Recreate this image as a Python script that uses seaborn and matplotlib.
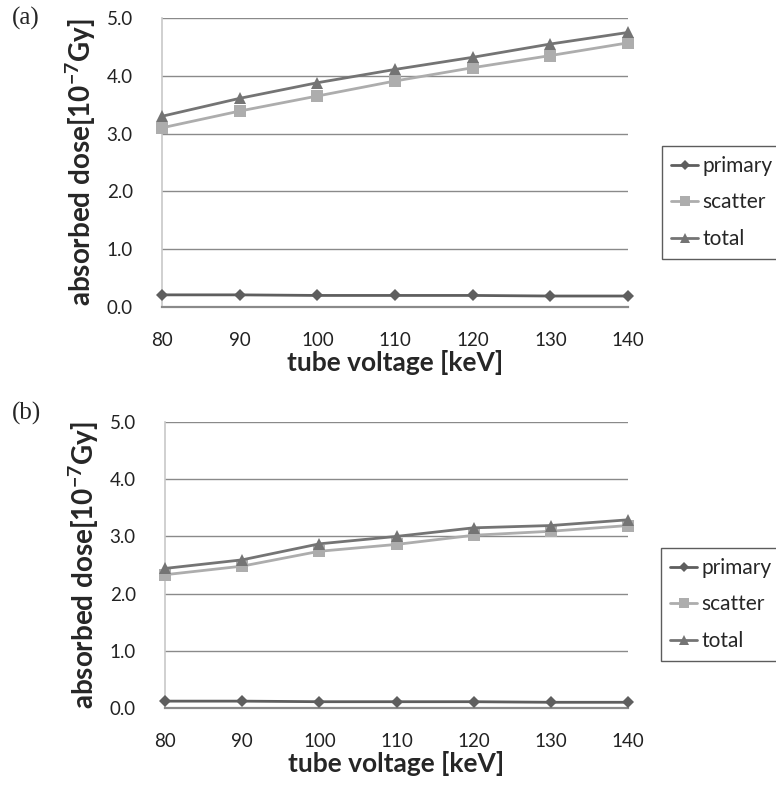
import matplotlib
matplotlib.use("Agg")
import matplotlib.pyplot as plt
import seaborn as sns
import pandas as pd
from matplotlib.lines import Line2D

# ============================================
# Data
# ============================================

voltage = [80, 90, 100, 110, 120, 130, 140]

primary_a = [0.21, 0.21, 0.20, 0.20, 0.20, 0.19, 0.19]
scatter_a = [3.10, 3.39, 3.65, 3.91, 4.14, 4.35, 4.57]
total_a = [3.30, 3.61, 3.88, 4.11, 4.32, 4.55, 4.75]

primary_b = [0.12, 0.12, 0.11, 0.11, 0.11, 0.10, 0.10]
scatter_b = [2.33, 2.48, 2.74, 2.86, 3.02, 3.09, 3.19]
total_b = [2.44, 2.59, 2.87, 3.00, 3.15, 3.19, 3.29]

series_names = ["primary", "scatter", "total"]
y_ticks = [0.0, 1.0, 2.0, 3.0, 4.0, 5.0]

palette = {"primary": "#5e5e5e", "scatter": "#adadad", "total": "#747474"}
markers = {"primary": "D", "scatter": "s", "total": "^"}
msizes = {"primary": 6, "scatter": 8, "total": 8}

sns.set_style("white")
plt.rcParams["font.family"] = ["Lato", "DejaVu Sans"]

fig = plt.figure(figsize=(7.76, 7.91), dpi=100)
W, H = 776, 791


def px_axes(left, top, right, bottom):
    return fig.add_axes([left / W, 1 - bottom / H, (right - left) / W, (bottom - top) / H])


def draw_panel(ax, primary, scatter, total, tag, tag_y, legend_box):

    df = pd.DataFrame({
        "voltage": voltage * 3,
        "dose": primary + scatter + total,
        "series": (["primary"] * len(voltage) + ["scatter"] * len(voltage)
                   + ["total"] * len(voltage)),
    })

    for name in series_names:
        sub = df[df["series"] == name]
        sns.lineplot(
            data=sub, x="voltage", y="dose", ax=ax,
            color=palette[name], marker=markers[name],
            markersize=msizes[name], markeredgewidth=0,
            linewidth=2.0, zorder=3, legend=False, clip_on=False
        )

    ax.set_xlim(80, 140)
    ax.set_ylim(0, 5)
    ax.set_xticks(voltage)
    ax.set_yticks(y_ticks)
    ax.set_yticklabels([f"{v:.1f}" for v in y_ticks])
    ax.tick_params(axis="both", length=0, labelsize=13.5, colors="#222222")
    ax.tick_params(axis="x", pad=18)
    ax.tick_params(axis="y", pad=21)
    for v in y_ticks[1:]:
        ax.axhline(v, color="#8a8a8a", linewidth=1.0, zorder=1)

    for s in ["top", "right"]:
        ax.spines[s].set_visible(False)
    ax.spines["left"].set_color("#c8c8c8")
    ax.spines["left"].set_linewidth(1.2)
    ax.spines["bottom"].set_color("#8a8a8a")
    ax.spines["bottom"].set_linewidth(1.6)

    ax.set_xlabel("tube voltage [keV]", fontsize=19, fontweight="bold", labelpad=1)
    ax.set_ylabel("absorbed dose[10$^{\\mathregular{-7}}$Gy]", fontsize=20,
                  fontweight="bold", labelpad=6)

    fig.text(12 / W, 1 - tag_y / H, tag, fontsize=18,
             family=["Liberation Serif", "DejaVu Serif"], va="center", ha="left")

    handles = [
        Line2D([0], [0], color=palette[n], marker=markers[n],
               markersize=msizes[n] - 1, markeredgewidth=0, linewidth=2.0)
        for n in series_names
    ]
    l, t, r, b = legend_box
    leg = fig.legend(
        handles, series_names, loc="center left",
        bbox_to_anchor=(l / W, 1 - (t + b) / 2 / H),
        fontsize=15, frameon=True, fancybox=False, handlelength=1.3,
        handletextpad=0.2, labelspacing=0.8, borderpad=0.45,
        borderaxespad=0
    )
    leg.get_frame().set_edgecolor("#333333")
    leg.get_frame().set_linewidth(1.0)


ax_a = px_axes(162, 18, 628, 307)
draw_panel(ax_a, primary_a, scatter_a, total_a, "(a)", 18, (662, 148, 770, 257))

ax_b = px_axes(165, 422, 628, 708)
draw_panel(ax_b, primary_b, scatter_b, total_b, "(b)", 413, (661, 551, 770, 658))

fig.savefig("out.png", dpi=100)
